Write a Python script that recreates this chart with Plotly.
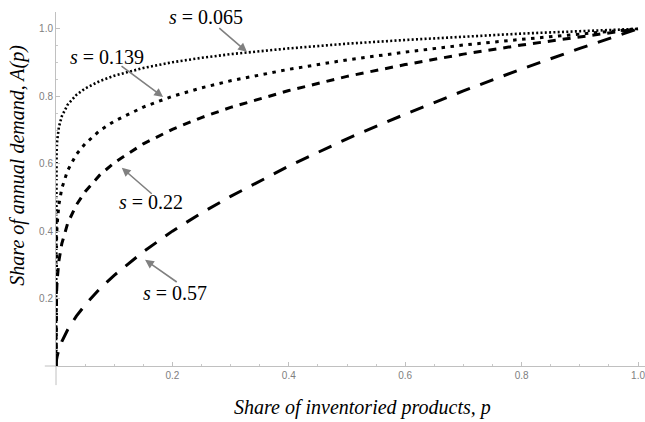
import plotly.graph_objects as go

# Data
p = [0, 1e-6, 1e-4, 0.001, 0.002, 0.005, 0.01, 0.02, 0.035, 0.05, 0.075, 0.1,
     0.15, 0.2, 0.25, 0.3, 0.4, 0.5, 0.6, 0.7, 0.8, 0.9, 1.0]
a_s065 = [0, 0.407, 0.549, 0.638, 0.668, 0.709, 0.741, 0.775, 0.804, 0.823, 0.845, 0.861,
          0.884, 0.901, 0.914, 0.925, 0.942, 0.956, 0.967, 0.977, 0.986, 0.993, 1.0]
a_s139 = [0, 0.147, 0.278, 0.383, 0.421, 0.479, 0.527, 0.580, 0.628, 0.659, 0.698, 0.726,
          0.768, 0.800, 0.825, 0.846, 0.880, 0.908, 0.931, 0.952, 0.969, 0.985, 1.0]
a_s22 = [0, 0.048, 0.132, 0.219, 0.255, 0.312, 0.363, 0.423, 0.478, 0.517, 0.566, 0.603,
         0.659, 0.702, 0.737, 0.767, 0.817, 0.859, 0.894, 0.925, 0.952, 0.977, 1.0]
a_s57 = [0, 0.0004, 0.0052, 0.0195, 0.0289, 0.0488, 0.0724, 0.1076, 0.148, 0.181, 0.229, 0.269,
         0.339, 0.400, 0.454, 0.503, 0.593, 0.674, 0.747, 0.816, 0.881, 0.942, 1.0]
series_names = ["s = 0.065", "s = 0.139", "s = 0.22", "s = 0.57"]
label_texts = ["<i>s</i> = 0.065", "<i>s</i> = 0.139", "<i>s</i> = 0.22", "<i>s</i> = 0.57"]
tick_vals = [0.2, 0.4, 0.6, 0.8, 1.0]
tick_text = ["0.2", "0.4", "0.6", "0.8", "1.0"]

series = [a_s065, a_s139, a_s22, a_s57]
dashes = ["2px,2.3px", "3.5px,5.5px", "8px,7px", "14px,11px"]
widths = [2.6, 3.0, 3.0, 3.0]

fig = go.Figure()
for name, ys, d, w in zip(series_names, series, dashes, widths):
    fig.add_trace(go.Scatter(x=p, y=ys, mode="lines", name=name,
                             line=dict(color="black", width=w, dash=d),
                             showlegend=False, hoverinfo="skip"))

serif = "Liberation Serif, Times New Roman, serif"
# label positions (data coords): text centre, arrow tail, arrow tip
label_pos = [((0.258, 1.036), (0.278, 1.006), (0.328, 0.932)),
             ((0.088, 0.917), (0.110, 0.893), (0.184, 0.798)),
             ((0.163, 0.487), (0.167, 0.507), (0.113, 0.588)),
             ((0.204, 0.217), (0.210, 0.246), (0.153, 0.315))]
for txt, (tc, tail, tip) in zip(label_texts, label_pos):
    fig.add_annotation(x=tc[0], y=tc[1], xref="x", yref="y", text=txt, showarrow=False,
                       xanchor="center", yanchor="middle",
                       font=dict(family=serif, size=20, color="black"))
    fig.add_annotation(x=tip[0], y=tip[1], ax=tail[0], ay=tail[1], xref="x", yref="y",
                       axref="x", ayref="y", text="", showarrow=True, arrowhead=2,
                       arrowsize=1.1, arrowwidth=1.6, arrowcolor="#808080")

# axis titles
fig.add_annotation(x=0.521, y=-0.116, xref="paper", yref="paper",
                   xanchor="center", yanchor="middle",
                   text="<i>Share of inventoried products, p</i>", showarrow=False,
                   font=dict(family=serif, size=20, color="black"))
fig.add_annotation(x=-0.065, y=0.568, xref="paper", yref="paper", textangle=-90,
                   xanchor="center", yanchor="middle",
                   text="<i>Share of annual demand, A(p)</i>", showarrow=False,
                   font=dict(family=serif, size=20, color="black"))

# axis line extensions (Mathematica-style crossing axes)
fig.add_shape(type="line", xref="paper", yref="paper", x0=-0.019, x1=0, y0=0, y1=0,
              line=dict(color="#c0c0c0", width=1))
fig.add_shape(type="line", xref="paper", yref="paper", x0=0, x1=0, y0=-0.054, y1=0,
              line=dict(color="#c0c0c0", width=1))

tickfont = dict(family="Liberation Sans, Arial, sans-serif", size=10, color="#808080")
common = dict(showgrid=False, zeroline=False, showline=True, automargin=False,
              linecolor="#c0c0c0", linewidth=1, ticks="inside", ticklen=4,
              tickcolor="#c0c0c0", tickvals=tick_vals, ticktext=tick_text,
              tickfont=tickfont, ticklabeloverflow="allow",
              minor=dict(dtick=0.05, tick0=0, ticks="inside", ticklen=2, tickcolor="#c8c8c8"))
fig.update_xaxes(range=[0, 1.012], **common)
fig.update_yaxes(range=[0, 1.05], **common)

fig.update_layout(width=645, height=422, margin=dict(l=56, r=0, t=12, b=56),
                  plot_bgcolor="white", paper_bgcolor="white")
fig.write_html("out.html", config={"displayModeBar": False},
               post_script="document.body.style.margin='0';document.body.style.overflow='hidden';")
